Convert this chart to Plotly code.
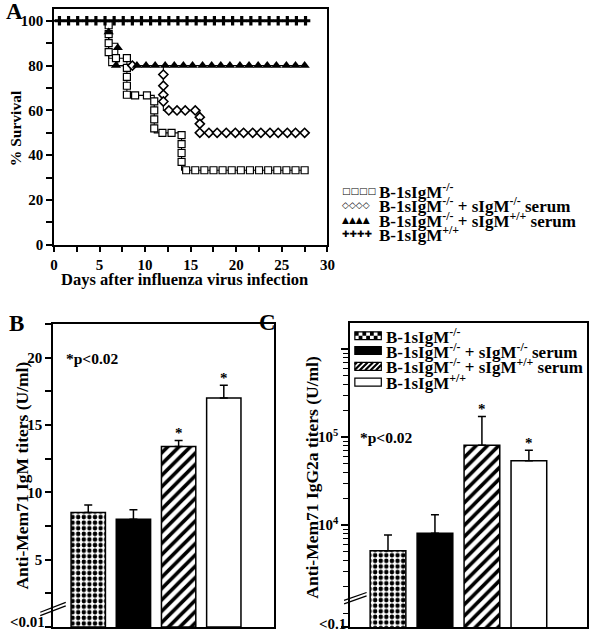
import plotly.graph_objects as go
import numpy as np

W, H = 601, 640
def px(x): return x / W
def py(y): return 1 - y / H

FONT = "Liberation Serif"
def bf(size=15, family=FONT):
    return dict(family=family, size=size, color="black", weight="bold")

# ---------------- Panel A data (days, % survival) ----------------
series_names = ["B-1sIgM<sup>-/-</sup>",
                "B-1sIgM<sup>-/-</sup> + sIgM<sup>-/-</sup> serum",
                "B-1sIgM<sup>-/-</sup> + sIgM<sup>+/+</sup> serum",
                "B-1sIgM<sup>+/+</sup>"]

# step (Kaplan-Meier) lines
sq_step_day = [0, 6, 8, 11, 14, 27.5]
sq_step_surv = [100, 83.3, 66.7, 50, 33.3, 33.3]
di_step_day = [0, 6, 12, 16, 27.5]
di_step_surv = [100, 80, 60, 50, 50]
tr_step_day = [0, 6, 7, 27.5]
tr_step_surv = [100, 90, 80, 80]
pl_step_day = [0, 27.7]
pl_step_surv = [100, 100]

# plotted symbols
sq_day = [6, 6, 6, 6, 6.8, 8, 8, 8, 8, 8, 8.9, 10.2, 11, 11, 11, 11, 11.9, 12.9,
          14, 14, 14, 14, 14.5, 15.5, 16.5, 17.5, 18.5, 19.5, 20.5, 21.5, 22.5,
          23.5, 24.5, 25.5, 26.5, 27.5]
sq_surv = [98, 94, 90, 86, 83.3, 83.3, 79, 75, 71, 67, 66.7, 66.7, 64, 60, 56, 52, 50, 50,
           49, 45, 41, 37, 33.3, 33.3, 33.3, 33.3, 33.3, 33.3, 33.3, 33.3, 33.3,
           33.3, 33.3, 33.3, 33.3, 33.3]
di_day = [8.6, 12, 12, 12, 12, 12.6, 13.5, 14.4, 15.5, 16, 16, 16,
          17.0, 17.9, 18.9, 19.9, 20.8, 21.8, 22.7, 23.7, 24.6, 25.6, 26.5, 27.5]
di_surv = [80, 76, 71, 67, 64, 60, 60, 60, 60, 57, 54, 50,
           50, 50, 50, 50, 50, 50, 50, 50, 50, 50, 50, 50]
tr_day = [6, 7, 6.8, 9.1, 10.1, 11.1, 12.2, 13.2, 14.2, 15.2, 16.3, 17.3, 18.3, 19.3,
          20.4, 21.4, 22.4, 23.4, 24.4, 25.5, 26.5, 27.5]
tr_surv = [95, 88, 80, 80, 80, 80, 80, 80, 80, 80, 80, 80, 80, 80,
           80, 80, 80, 80, 80, 80, 80, 80]
pl_day = [0.6, 1.6, 2.6, 3.6, 4.6, 5.6, 6.6, 7.6, 8.6, 9.6, 10.6, 11.6, 12.6, 13.6,
          14.6, 15.6, 16.6, 17.6, 18.6, 19.6, 20.6, 21.6, 22.6, 23.6, 24.6, 25.6, 26.6, 27.6]
pl_surv = [100] * 28

# ---------------- Panel B / C data ----------------
groups = [0, 1, 2, 3]
igm_titer = [8.5, 8.0, 13.4, 17.0]
igm_err = [0.55, 0.7, 0.45, 0.95]
igm_sig = [False, False, True, True]
igg_titer = [5100, 8100, 81000, 54000]
igg_err = [2600, 5000, 91000, 17000]
igg_sig = [False, False, True, True]

igm_ticks = [0, 5, 10, 15, 20]
igm_ticktext = ["", "5", "10", "15", "20"]
igg_ticks = [10 ** 2.84, 1e4, 1e5, 1e6]
igg_ticktext = ["", "10<sup>4</sup>", "10<sup>5</sup>", ""]

fig = go.Figure()

# ---- Panel A traces ----
for d, s in [(sq_step_day, sq_step_surv), (di_step_day, di_step_surv),
             (tr_step_day, tr_step_surv), (pl_step_day, pl_step_surv)]:
    fig.add_trace(go.Scatter(x=d, y=s, mode="lines", line=dict(color="black", width=1.1, shape="hv"),
                             xaxis="x", yaxis="y", showlegend=False, hoverinfo="skip"))

fig.add_trace(go.Scatter(x=sq_day, y=sq_surv, mode="markers", xaxis="x", yaxis="y", showlegend=False,
                         marker=dict(symbol="square", size=7, color="white",
                                     line=dict(width=1.2, color="black"))))
fig.add_trace(go.Scatter(x=di_day, y=di_surv, mode="markers", xaxis="x", yaxis="y", showlegend=False,
                         marker=dict(symbol="diamond", size=7, color="white",
                                     line=dict(width=1.6, color="black"))))
fig.add_trace(go.Scatter(x=tr_day, y=tr_surv, mode="markers", xaxis="x", yaxis="y", showlegend=False,
                         marker=dict(symbol="triangle-up", size=9, color="black")))
fig.add_trace(go.Scatter(x=pl_day, y=pl_surv, mode="markers", xaxis="x", yaxis="y", showlegend=False,
                         marker=dict(symbol="cross", size=8, color="black")))

# ---- bars (one trace per group so each gets its own fill pattern) ----
bar_colors = ["white", "black", "white", "white"]
bar_patterns = [".", "", "/", ""]
pat_sizes = [5.6, 8, 8, 8]
pat_solid = [0.5, 0.3, 0.45, 0.3]

for i in range(len(groups)):
    mk = dict(color=bar_colors[i], line=dict(color="black", width=1.5))
    if bar_patterns[i]:
        mk["pattern"] = dict(shape=bar_patterns[i], fgcolor="black", bgcolor="white",
                             size=pat_sizes[i], solidity=pat_solid[i], fillmode="replace")
    fig.add_trace(go.Bar(x=[groups[i]], y=[igm_titer[i]], width=0.76, xaxis="x2", yaxis="y2",
                         showlegend=False, marker=mk,
                         error_y=dict(type="data", symmetric=False, array=[igm_err[i]], arrayminus=[0],
                                      color="black", thickness=1.5, width=4)))
    fig.add_trace(go.Bar(x=[groups[i]], y=[igg_titer[i]], width=0.76, xaxis="x3", yaxis="y3",
                         showlegend=False, marker=mk,
                         error_y=dict(type="data", symmetric=False, array=[igg_err[i]], arrayminus=[0],
                                      color="black", thickness=1.5, width=4)))

axcommon = dict(showline=True, linecolor="black", linewidth=1.5, mirror=True, showgrid=False,
                zeroline=False, tickfont=bf(15), ticks="outside", tickcolor="black", tickwidth=1.5)

fig.update_layout(
    width=W, height=H, margin=dict(l=0, r=0, t=0, b=0),
    paper_bgcolor="white", plot_bgcolor="white", showlegend=False, barmode="overlay",
    xaxis=dict(axcommon, domain=[px(51), px(330)], range=[0, 30], tickvals=[0, 5, 10, 15, 20, 25, 30],
               ticklen=5, minor=dict(ticks="outside", dtick=2.5, ticklen=5, tickcolor="black", tickwidth=1.5),
               anchor="y"),
    yaxis=dict(axcommon, domain=[py(248), py(9)], range=[0, 105.3], tickvals=[0, 20, 40, 60, 80, 100],
               ticklen=6, minor=dict(ticks="outside", dtick=10, ticklen=6, tickcolor="black", tickwidth=1.5),
               anchor="x"),
    xaxis2=dict(axcommon, domain=[px(50), px(275)], range=[-0.78, 4.1], ticks="", showticklabels=False,
                anchor="y2"),
    yaxis2=dict(axcommon, domain=[py(635), py(328)], range=[0, 22.5], tickvals=igm_ticks,
                ticktext=igm_ticktext, ticklen=6,
                minor=dict(ticks="outside", dtick=2.5, ticklen=6, tickcolor="black", tickwidth=1.5),
                anchor="x2"),
    xaxis3=dict(axcommon, domain=[px(353), px(595)], range=[-0.81, 4.24], ticks="", showticklabels=False,
                anchor="y3"),
    yaxis3=dict(axcommon, domain=[py(635), py(327)], type="log", range=[2.84, 6.3], tickvals=igg_ticks,
                ticktext=igg_ticktext, ticklen=7,
                minor=dict(ticks="outside", ticklen=5, tickcolor="black", tickwidth=1.2,
                           tickvals=[m * 10 ** e for e in (3, 4, 5) for m in range(1, 10)
                                     if 10 ** 2.84 < m * 10 ** e < 10 ** 6.3]),
                anchor="x3"),
)

ann = []
def a(text, x, y, size=15, xanchor="left", yanchor="middle", angle=0, family=FONT, xref="paper", yref="paper"):
    ann.append(dict(text=text, x=x, y=y, xref=xref, yref=yref, showarrow=False, xanchor=xanchor,
                    yanchor=yanchor, textangle=angle, font=bf(size, family)))

a("A", px(0), py(12), 23)
a("B", px(3), py(328), 23)
a("C", px(258), py(327), 23)
a("Days after influenza virus infection", px(184), py(283), 16.5, xanchor="center")
a("% Survival", px(12), py(130), 15.5, xanchor="center", angle=-90)
a("Anti-Mem71 IgM titers (U/ml)", px(18), py(482), 17.5, xanchor="center", angle=-90)
a("Anti-Mem71 IgG2a titers (U/ml)", px(314), py(483), 17.5, xanchor="center", angle=-90)
a("*p<0.02", px(61), py(363), 15.5)
a("*p<0.02", px(361), py(443), 15.5)
# bottom (broken-axis) labels
a("<0.01", px(44), py(630), 15, xanchor="right")
a("<0.1", px(351), py(632), 15, xanchor="right")

# significance asterisks
for g, v, e, s in zip(groups, igm_titer, igm_err, igm_sig):
    if s:
        ann.append(dict(text="*", x=g, y=v + e, xref="x2", yref="y2", showarrow=False, yanchor="bottom",
                        yshift=-3, font=bf(15)))
for g, v, e, s in zip(groups, igg_titer, igg_err, igg_sig):
    if s:
        ann.append(dict(text="*", x=g, y=np.log10(v + e), xref="x3", yref="y3", showarrow=False,
                        yanchor="bottom", yshift=-3, font=bf(15)))

# legend A (symbols + labels)
legA_rows = [193, 208, 223, 237]
legA_syms = ["□□□□", "◇◇◇◇", "▲▲▲▲", "✚✚✚✚"]
for r, sym, name in zip(legA_rows, legA_syms, series_names):
    a(sym, px(343), py(r), 9, family="DejaVu Sans")
    a(name, px(381), py(r), 17)

# legend C (swatches + labels)
legC_rows = [340, 355, 371, 387]
for r, name in zip(legC_rows, series_names):
    a(name, px(388), py(r), 17)

shapes = []
x0, x1 = 358, 385
def rect(xa, ya, xb, yb, fill, lw=1.2):
    shapes.append(dict(type="rect", xref="paper", yref="paper", x0=px(xa), x1=px(xb), y0=py(yb), y1=py(ya),
                       fillcolor=fill, line=dict(color="black", width=lw)))

# checker swatch
ya, yb = legC_rows[0] - 4, legC_rows[0] + 4
rect(x0, ya, x1, yb, "white")
cw = (x1 - x0) / 7
path = ""
for row in range(2):
    for col in range(7):
        if (row + col) % 2 == 0:
            xa_, xb_ = x0 + col * cw, x0 + (col + 1) * cw
            ya_, yb_ = ya + row * 4, ya + (row + 1) * 4
            path += f"M{px(xa_)},{py(ya_)} L{px(xb_)},{py(ya_)} L{px(xb_)},{py(yb_)} L{px(xa_)},{py(yb_)} Z "
shapes.append(dict(type="path", xref="paper", yref="paper", path=path, fillcolor="black",
                   line=dict(width=0)))
# solid swatch
rect(x0, legC_rows[1] - 4, x1, legC_rows[1] + 4, "black")
# hatched swatch
ya, yb = legC_rows[2] - 4, legC_rows[2] + 4
rect(x0, ya, x1, yb, "white")
hp = ""
h = yb - ya
for c in np.arange(x0 - h + 2, x1, 5.5):
    sx, sy = c, yb
    ex, ey = c + h, ya
    if sx < x0:
        sy = yb - (x0 - sx); sx = x0
    if ex > x1:
        ey = ya + (ex - x1); ex = x1
    if ex > sx:
        hp += f"M{px(sx)},{py(sy)} L{px(ex)},{py(ey)} "
shapes.append(dict(type="path", xref="paper", yref="paper", path=hp, line=dict(color="black", width=2.2)))
# open swatch
rect(x0, legC_rows[3] - 4, x1, legC_rows[3] + 4, "white")

# axis break marks
for (xa_, ya_, xb_, yb_) in [(37, 620, 63, 610), (347, 608, 370, 600)]:
    for off in (0, 3.5):
        shapes.append(dict(type="line", xref="paper", yref="paper", x0=px(xa_), y0=py(ya_ + off),
                           x1=px(xb_), y1=py(yb_ + off), line=dict(color="black", width=1.3)))

fig.update_layout(annotations=ann, shapes=shapes)
fig.write_html("out.html", config={"displayModeBar": False},
               post_script="document.body.style.margin='0';document.body.style.overflow='hidden';")
